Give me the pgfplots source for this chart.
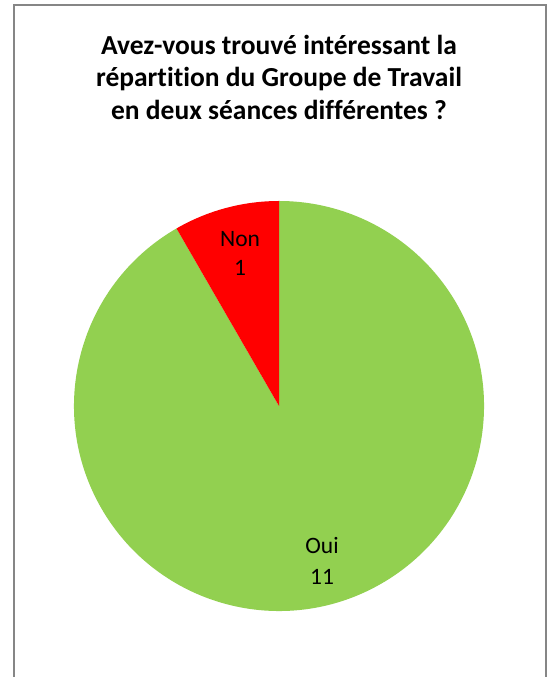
\documentclass[border=0pt]{standalone}
\usepackage{fontspec}
\setmainfont{Carlito}[Ligatures=NoCommon]
\usepackage{pgfplots}
\pgfplotsset{compat=1.18}
\definecolor{pieGreen}{HTML}{92D050}
\definecolor{pieRed}{HTML}{FF0000}
\definecolor{frameGray}{HTML}{868686}
\begin{document}
\begin{tikzpicture}[x=1pt,y=1pt]
\useasboundingbox (0,0) rectangle (549,677);
\fill[white] (0,0) rectangle (549,677);
\draw[frameGray, line width=2pt] (14,-10) -- (14,672) -- (546,672) -- (546,-10);
\node[font=\bfseries\fontsize{27.5}{32.5}\selectfont, align=center, anchor=center] at (279,600)
  {Avez-vous trouvé intéressant la\\répartition du Groupe de Travail\\en deux séances différentes ?};
\begin{axis}[at={(279pt,271pt)}, anchor=center, width=410pt, height=410pt, scale only axis,
  xmin=-1, xmax=1, ymin=-1, ymax=1, hide axis, clip=false,
  /pgf/number format/assume math mode=true]
\pgfmathsetmacro\valOui{11}
\pgfmathsetmacro\valNon{1}
\pgfmathsetmacro\total{\valOui+\valNon}
\pgfmathsetmacro\aNon{90+360*\valNon/\total}
\fill[pieGreen] (axis cs:0,0) -- (axis cs:{cos(\aNon)},{sin(\aNon)}) arc[start angle=\aNon, end angle=450, radius=205pt] -- cycle;
\fill[pieRed] (axis cs:0,0) -- (axis cs:0,1) arc[start angle=90, end angle=\aNon, radius=205pt] -- cycle;
\node[font=\fontsize{23.5}{29}\selectfont, align=center] at (axis cs:-0.19,0.745) {Non\\\pgfmathprintnumber{\valNon}};
\node[font=\fontsize{23.5}{31}\selectfont, align=center] at (axis cs:0.21,-0.755) {Oui\\\pgfmathprintnumber{\valOui}};
\end{axis}
\end{tikzpicture}
\end{document}
